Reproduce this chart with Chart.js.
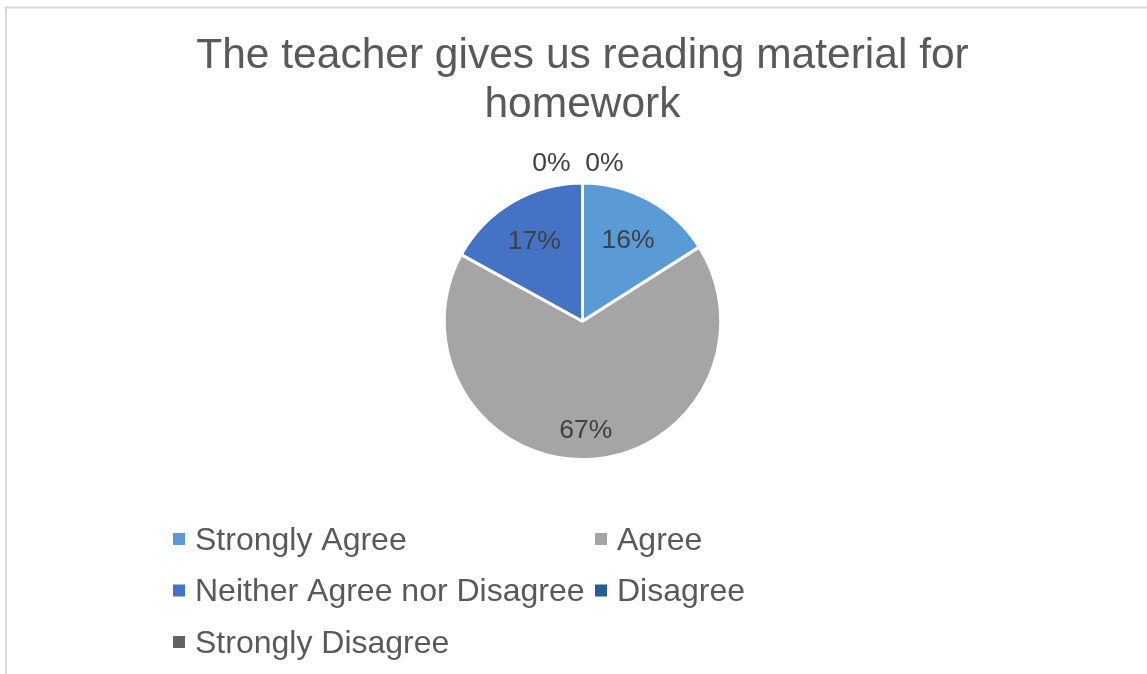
<!DOCTYPE html>
<html lang="en">
<head>
    <meta charset="UTF-8">
    <title>Reading material for homework</title>
    <script src="https://cdn.jsdelivr.net/npm/chart.js"></script>
    <style>
        html, body { margin: 0; padding: 0; background: #fff; }
        #wrap { width: 1147px; height: 674px; }
    </style>
</head>
<body>
    <div id="wrap"><canvas id="pieChart" width="1147" height="674"></canvas></div>

    <script>
        // data
        let labels = ['Strongly Agree', 'Agree', 'Neither Agree nor Disagree', 'Disagree', 'Strongly Disagree'];
        let percents = [16, 67, 17, 0, 0];
        let colors = ['#5B9BD5', '#A5A5A5', '#4472C4', '#255E91', '#636363'];
        let titleLines = ['The teacher gives us reading material for', 'homework'];

        const FONT = '"Liberation Sans", Arial, sans-serif';

        // frame, slice labels and the two-column legend
        let extras = {
            id: 'extras',
            beforeDraw(chart) {
                let c = chart.ctx;
                c.save();
                c.strokeStyle = '#d9d9d9';
                c.lineWidth = 2;
                c.strokeRect(6, 7.5, 1300, 900);
                c.restore();
            },
            afterDraw(chart) {
                let c = chart.ctx;
                let meta = chart.getDatasetMeta(0);
                c.save();
                c.font = '26.5px ' + FONT;
                c.fillStyle = '#404040';
                c.textAlign = 'center';
                c.textBaseline = 'middle';
                let zeroCount = 0;
                meta.data.forEach((arc, i) => {
                    let v = percents[i];
                    let p = arc.getProps(['x', 'y', 'startAngle', 'endAngle', 'outerRadius'], true);
                    let txt = v + '%';
                    if (v === 0) {
                        // empty slices: labels sit above the top of the pie
                        let dx = zeroCount === 0 ? -31 : 22;
                        c.fillText(txt, p.x + dx, p.y - p.outerRadius - 19);
                        zeroCount++;
                        return;
                    }
                    let mid = (p.startAngle + p.endAngle) / 2;
                    let f = v > 50 ? 0.78 : 0.685;
                    c.fillText(txt, p.x + Math.cos(mid) * p.outerRadius * f, p.y + Math.sin(mid) * p.outerRadius * f + 2);
                });

                // legend
                c.font = '32px ' + FONT;
                c.textAlign = 'left';
                let colX = [173, 595];
                let rowY = [539, 590.5, 642];
                labels.forEach((lab, i) => {
                    let x = colX[i % 2];
                    let y = rowY[Math.floor(i / 2)];
                    c.fillStyle = colors[i];
                    c.fillRect(x, y - 6, 12, 12);
                    c.fillStyle = '#595959';
                    c.fillText(lab, x + 22, y + 2);
                });
                c.restore();
            }
        };

        let ctx = document.getElementById('pieChart').getContext('2d');
        let pieChart = new Chart(ctx, {
            type: 'pie',
            data: {
                labels: labels,
                datasets: [{
                    data: percents,
                    backgroundColor: colors,
                    borderColor: '#ffffff',
                    borderWidth: 3
                }]
            },
            options: {
                responsive: false,
                animation: false,
                layout: { padding: { top: 0, bottom: 213, left: 18, right: 0 } },
                plugins: {
                    legend: { display: false },
                    tooltip: { enabled: false },
                    title: {
                        display: true,
                        text: titleLines,
                        color: '#595959',
                        font: { family: FONT, size: 42.5, weight: 'normal', lineHeight: 1.17 },
                        padding: { top: 31, bottom: 51 }
                    }
                }
            },
            plugins: [extras]
        });
    </script>
</body>
</html>
